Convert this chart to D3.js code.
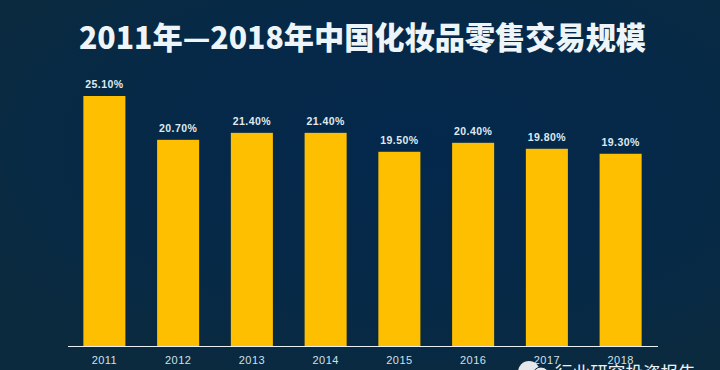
<!DOCTYPE html>
<html><head><meta charset="utf-8">
<script src="https://cdn.jsdelivr.net/npm/d3@7/dist/d3.min.js"></script>
<style>html,body{margin:0;padding:0;background:#0a2a40;overflow:hidden}svg{display:block}</style>
</head><body><svg id="c" width="720" height="370"></svg>
<script>
const categories = ["2011","2012","2013","2014","2015","2016","2017","2018"];
const values = [25.1,20.7,21.4,21.4,19.5,20.4,19.8,19.3];
const titleText = "2011年—2018年中国化妆品零售交易规模";
const watermarkText = "行业研究投资报告";

const svg = d3.select("#c");
const defs = svg.append("defs");
const grad = defs.append("radialGradient").attr("id","bg").attr("cx","58%").attr("cy","40%").attr("r","70%");
grad.append("stop").attr("offset","0%").attr("stop-color","#04284c");
grad.append("stop").attr("offset","60%").attr("stop-color","#062947");
grad.append("stop").attr("offset","100%").attr("stop-color","#0b2a3e");
svg.append("rect").attr("width",720).attr("height",370).attr("fill","url(#bg)");

const font = "'Noto Sans CJK SC','Noto Sans',sans-serif";
const x = d3.scaleBand().domain(categories).range([67.5,657.5]).paddingInner(0.43).paddingOuter(0.215);
const y = d3.scaleLinear().domain([0,25.1]).range([346,96]);

svg.append("text").attr("x",362.5).attr("y",49).attr("text-anchor","middle")
  .attr("fill","#eef5f8").attr("font-family",font).attr("font-weight",900).attr("font-size",30.2)
  .text(titleText);

svg.selectAll("rect.bar").data(values).join("rect").attr("class","bar")
  .attr("x",(d,i)=>x(categories[i])).attr("width",x.bandwidth())
  .attr("y",d=>y(d)).attr("height",d=>y(0)-y(d)).attr("fill","#fdbf00");

svg.selectAll("text.val").data(values).join("text").attr("class","val")
  .attr("x",(d,i)=>x(categories[i])+x.bandwidth()/2).attr("y",d=>y(d)-8)
  .attr("text-anchor","middle").attr("fill","#dfeaf0")
  .attr("font-family","'Liberation Sans',sans-serif").attr("font-weight",700).attr("font-size",10.5)
  .attr("letter-spacing",0.4)
  .text(d=>d.toFixed(2)+"%");

const axis = svg.append("g").attr("transform","translate(0,346)")
  .call(d3.axisBottom(x).tickSize(0).tickPadding(10));
axis.select(".domain").attr("stroke","#e8f0f4").attr("stroke-width",1);
axis.selectAll("text").attr("fill","#cfe0ea").attr("font-family","'Liberation Sans',sans-serif")
  .attr("font-size",11).attr("letter-spacing",0.4);

const mark = svg.append("g");
mark.append("circle").attr("cx",529).attr("cy",372).attr("r",11).attr("fill","#e4e8ea");
mark.append("circle").attr("cx",541).attr("cy",375).attr("r",8).attr("fill","#e4e8ea").attr("stroke","#062947");
mark.append("text").attr("x",555).attr("y",379).attr("fill","#eef2f4")
  .attr("font-family",font).attr("font-size",17.6).text(watermarkText);
</script></body></html>
